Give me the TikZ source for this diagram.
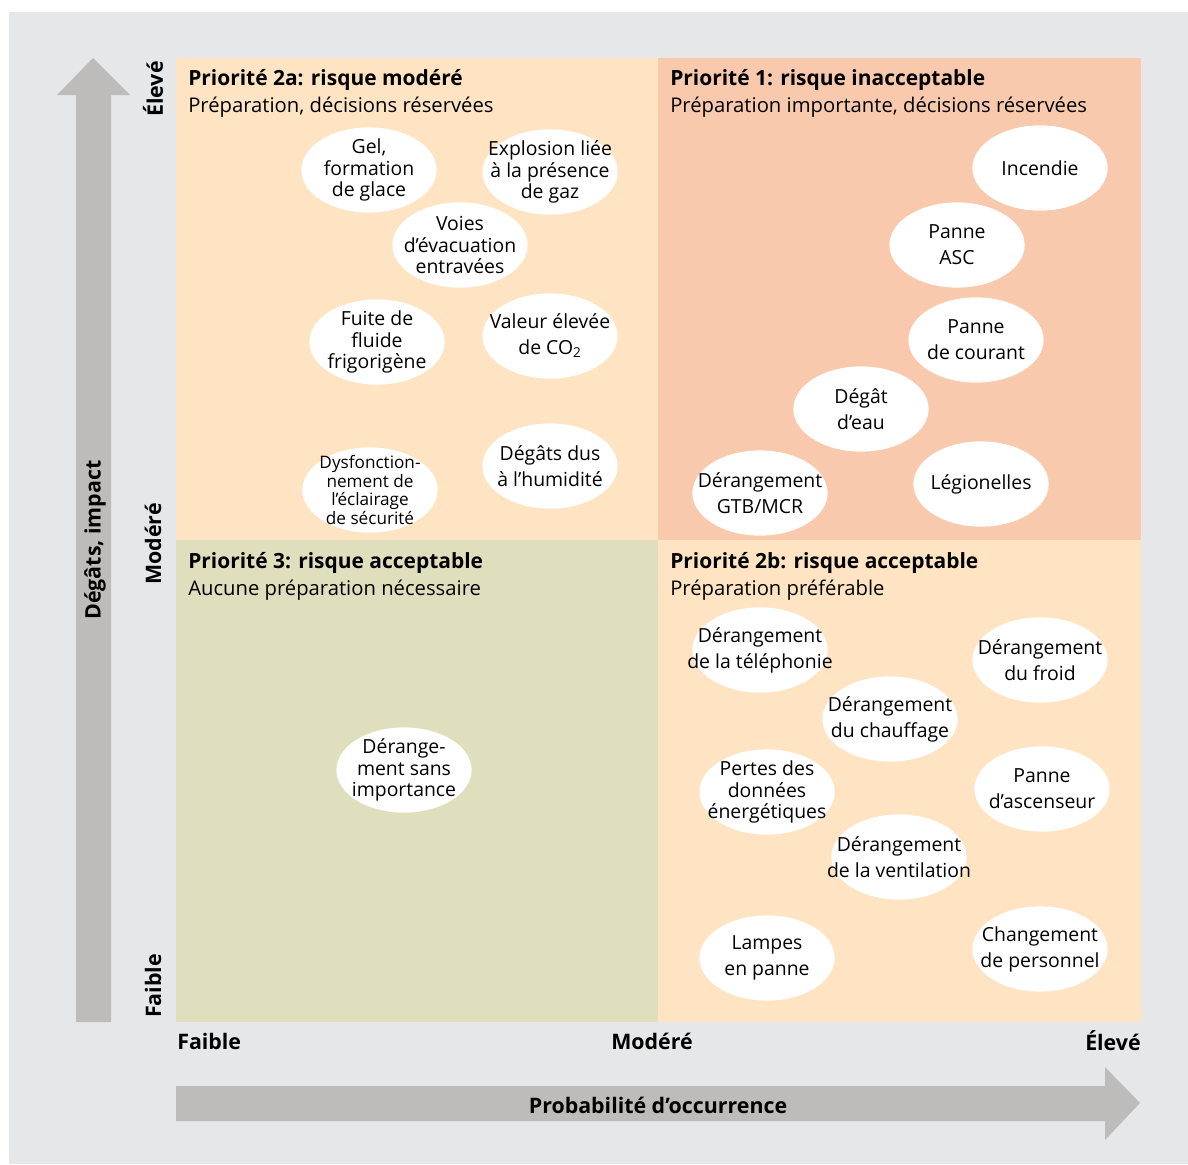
\documentclass[tikz,border=0pt]{standalone}
\usepackage{fontspec}
\setmainfont{Open Sans}
\usetikzlibrary{shapes.geometric,positioning}

\definecolor{bggray}{HTML}{E6E7E9}
\definecolor{arrowgray}{HTML}{BDBCBA}
\definecolor{peach}{HTML}{FEE4C3}
\definecolor{salmon}{HTML}{F9C9AD}
\definecolor{olive}{HTML}{DFDFBE}

\begin{document}
\begin{tikzpicture}[
                x=0.025cm, y=-0.025cm,
                riskblob/.style={ellipse, fill=white, minimum width=3.38cm, minimum height=2.13cm, inner sep=0pt},
                blobtext/.style={align=center, inner sep=0pt, font=\fontsize{13.8}{15.3}\selectfont},
                blobwide/.style={align=center, inner sep=0pt, font=\fontsize{13.8}{18.5}\selectfont},
                blobsmall/.style={align=center, inner sep=0pt, font=\fontsize{12.2}{13.2}\selectfont},
                quadtitle/.style={anchor=west, inner sep=0pt, font=\fontsize{14.9}{17}\selectfont\bfseries},
                quadsub/.style={anchor=west, inner sep=0pt, font=\fontsize{14.4}{17}\selectfont},
                axislabel/.style={inner sep=0pt, font=\fontsize{15.2}{17}\selectfont\bfseries}
            ]
                \useasboundingbox (0,0) rectangle (1188,1164);
                \fill[bggray] (9,12) rectangle (1188,1164);

                % Quadrants
                \fill[peach] (176,58) rectangle (658,540);
                \fill[salmon] (658,58) rectangle (1141,540);
                \fill[olive] (176,540) rectangle (658,1022);
                \fill[peach] (658,540) rectangle (1141,1022);

                % Axis arrows
                \fill[arrowgray] (76,1022) -- (76,95) -- (57,95) -- (93,58) -- (130,95) -- (111,95) -- (111,1022) -- cycle;
                \fill[arrowgray] (176,1086) -- (1105,1086) -- (1105,1067) -- (1140,1103) -- (1105,1140) -- (1105,1121) -- (176,1121) -- cycle;
                \node[axislabel, rotate=90] (impact) at (95,540) {Dégâts, impact};
                \node[axislabel] (proba) at (658,1105) {Probabilité d’occurrence};

                % Scale labels
                \node[axislabel, rotate=90] (yhigh) at (153,89) {Élevé};
                \node[axislabel, rotate=90] (ymid) at (153,544) {Modéré};
                \node[axislabel, rotate=90] (ylow) at (153,986) {Faible};
                \node[axislabel, anchor=west] (xlow) at (177,1041) {Faible};
                \node[axislabel] (xmid) at (652,1041) {Modéré};
                \node[axislabel, anchor=east] (xhigh) at (1141,1041) {Élevé};

                % Quadrant headings
                \node[quadtitle] (t2a) at (188,80) {Priorité 2a: risque modéré};
                \node[quadsub] (s2a) at (188,107) {Préparation, décisions réservées};
                \node[quadtitle] (t1) at (670,80) {Priorité 1: risque inacceptable};
                \node[quadsub] (s1) at (670,107) {Préparation importante, décisions réservées};
                \node[quadtitle] (t3) at (188,563) {Priorité 3: risque acceptable};
                \node[quadsub] (s3) at (188,590) {Aucune préparation nécessaire};
                \node[quadtitle] (t2b) at (670,563) {Priorité 2b: risque acceptable};
                \node[quadsub] (s2b) at (670,590) {Préparation préférable};

                % Priority 2a
                \node[riskblob, label={[blobtext]center:{Gel,\\formation\\de glace}}] (gel) at (369,170) {};
                \node[riskblob, label={[blobtext]center:{Explosion liée\\à la présence\\de gaz}}] (gaz) at (550,172) {};
                \node[riskblob, label={[blobtext]center:{Voies\\d’évacuation\\entravées}}] (voies) at (460,245) {};
                \node[riskblob, label={[blobtext]center:{Fuite de\\fluide\\frigorigène}}] (fuite) at (377,342) {};
                \node[riskblob, label={[blobwide]center:{Valeur élevée\\de CO\textsubscript{2}}}] (co2) at (550,336) {};
                \node[riskblob, label={[blobsmall]center:{Dysfonction-\\nement de\\l’éclairage\\de sécurité}}] (eclairage) at (370,490) {};
                \node[riskblob, label={[blobwide]center:{Dégâts dus\\à l'humidité}}] (humidite) at (550,466) {};

                % Priority 1
                \node[riskblob, label={[blobwide]center:{Incendie}}] (incendie) at (1040,168) {};
                \node[riskblob, label={[blobwide]center:{Panne\\ASC}}] (asc) at (957,245) {};
                \node[riskblob, label={[blobwide]center:{Panne\\de courant}}] (courant) at (976,340) {};
                \node[riskblob, label={[blobwide]center:{Dégât\\d’eau}}] (eau) at (861,409) {};
                \node[riskblob, label={[blobwide]center:{Dérangement\\GTB/MCR}}] (gtb) at (760,493) {};
                \node[riskblob, label={[blobwide]center:{Légionelles}}] (legio) at (981,484) {};

                % Priority 3
                \node[riskblob, label={[blobtext]center:{Dérange-\\ment sans\\importance}}] (sans) at (404,770) {};

                % Priority 2b
                \node[riskblob, label={[blobwide]center:{Dérangement\\de la téléphonie}}] (tel) at (760,650) {};
                \node[riskblob, label={[blobwide]center:{Dérangement\\du froid}}] (froid) at (1040,660) {};
                \node[riskblob, label={[blobwide]center:{Dérangement\\du chauffage}}] (chauffage) at (890,719) {};
                \node[riskblob, label={[blobtext]center:{Pertes des\\données\\énergétiques}}] (donnees) at (767,792) {};
                \node[riskblob, label={[blobwide]center:{Panne\\d’ascenseur}}] (ascenseur) at (1042,789) {};
                \node[riskblob, label={[blobwide]center:{Dérangement\\de la ventilation}}] (ventil) at (899,857) {};
                \node[riskblob, label={[blobwide]center:{Lampes\\en panne}}] (lampes) at (767,958) {};
                \node[riskblob, label={[blobwide]center:{Changement\\de personnel}}] (personnel) at (1040,949) {};
            \end{tikzpicture}
\end{document}
